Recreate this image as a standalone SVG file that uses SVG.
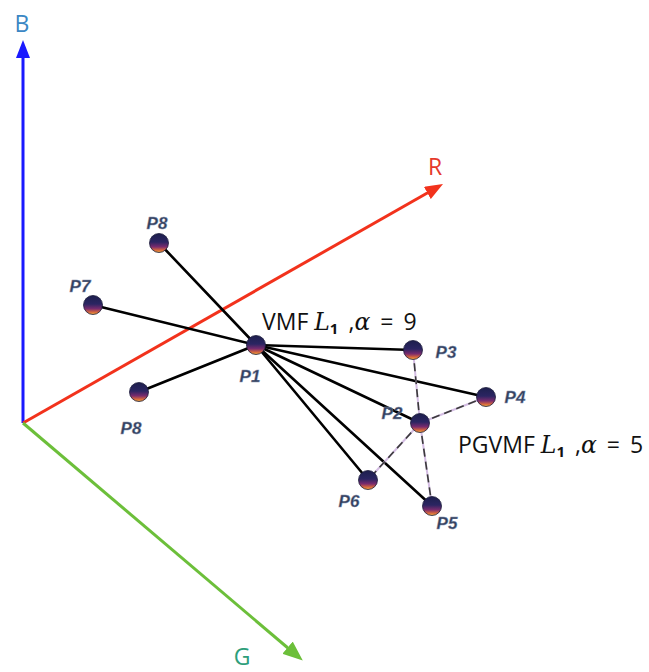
<svg xmlns="http://www.w3.org/2000/svg" width="649" height="672" viewBox="0 0 649 672">
<style>
.ax{stroke-width:3;fill:none}
.sl{stroke:#000;stroke-width:2.6;stroke-linecap:round}
.dl0{stroke:#d4bde3;stroke-width:2}
.dl1{stroke:#3a3a3a;stroke-width:1.6;stroke-dasharray:8 5}
.pl{font-family:"Liberation Sans",Arial,sans-serif;font-weight:bold;font-style:italic;font-size:17px;fill:#33415f;stroke:#8a96b0;stroke-width:0.4}
.al{font-family:"Open Sans","Liberation Sans",sans-serif;font-size:23px}
.mt{font-family:"Open Sans","Liberation Sans",sans-serif;font-size:23px;fill:#111}
.mi{font-family:"DejaVu Serif","Liberation Serif",serif;font-style:italic}
</style>
<defs>
<linearGradient id="sph" x1="0" y1="0" x2="0" y2="1">
<stop offset="0" stop-color="#1d1f4d"/>
<stop offset="0.45" stop-color="#2b2562"/>
<stop offset="0.7" stop-color="#7a2b6e"/>
<stop offset="0.88" stop-color="#d8683c"/>
<stop offset="1" stop-color="#f2b443"/>
</linearGradient>
<marker id="mb" viewBox="0 0 18 14" refX="8" refY="7" markerWidth="18" markerHeight="14" markerUnits="userSpaceOnUse" orient="auto"><path d="M0,0 L18,7 L0,14 Z" fill="#1a1aff"/></marker>
<marker id="mr" viewBox="0 0 18 14" refX="8" refY="7" markerWidth="18" markerHeight="14" markerUnits="userSpaceOnUse" orient="auto"><path d="M0,0 L18,7 L0,14 Z" fill="#f2321c"/></marker>
<marker id="mg" viewBox="0 0 20 16" refX="9" refY="8" markerWidth="20" markerHeight="16" markerUnits="userSpaceOnUse" orient="auto"><path d="M0,0 L20,8 L0,16 Z" fill="#6cbf3a"/></marker>
</defs>
<rect width="649" height="672" fill="#fff"/>
<g id="axes">
<line class="ax" x1="23" y1="423" x2="23" y2="50" stroke="#1a1aff" marker-end="url(#mb)"/>
<line class="ax" x1="23" y1="423" x2="434.3" y2="189" stroke="#f2321c" marker-end="url(#mr)"/>
<line class="ax" x1="23" y1="423" x2="294.4" y2="653.5" stroke="#6cbf3a" marker-end="url(#mg)"/>
<text class="al" x="22" y="32" text-anchor="middle" fill="#3b87c4">B</text>
<text class="al" x="435" y="175" text-anchor="middle" fill="#e5392b">R</text>
<text class="al" x="242" y="665" text-anchor="middle" fill="#2e9e7a">G</text>
</g>
<g id="connectors">
<line class="sl" x1="256" y1="345" x2="159" y2="243"/>
<line class="sl" x1="256" y1="345" x2="93" y2="305"/>
<line class="sl" x1="256" y1="345" x2="139" y2="392"/>
<line class="sl" x1="256" y1="345" x2="413" y2="350"/>
<line class="sl" x1="256" y1="345" x2="486" y2="397"/>
<line class="sl" x1="256" y1="345" x2="420" y2="423"/>
<line class="sl" x1="256" y1="345" x2="368" y2="480"/>
<line class="sl" x1="256" y1="345" x2="432" y2="506"/>
<g id="dashed">
<line class="dl0" x1="420" y1="423" x2="413" y2="350"/>
<line class="dl0" x1="420" y1="423" x2="486" y2="397"/>
<line class="dl0" x1="420" y1="423" x2="368" y2="480"/>
<line class="dl0" x1="420" y1="423" x2="432" y2="506"/>
<line class="dl1" x1="420" y1="423" x2="413" y2="350"/>
<line class="dl1" x1="420" y1="423" x2="486" y2="397"/>
<line class="dl1" x1="420" y1="423" x2="368" y2="480"/>
<line class="dl1" x1="420" y1="423" x2="432" y2="506"/>
</g>
</g>
<g id="P8a"><circle cx="159" cy="243" r="9.5" fill="url(#sph)" stroke="#1a1a3a" stroke-width="0.8"/><text class="pl" x="157" y="229" text-anchor="middle">P8</text></g>
<g id="P7"><circle cx="93" cy="305" r="9.5" fill="url(#sph)" stroke="#1a1a3a" stroke-width="0.8"/><text class="pl" x="80" y="292" text-anchor="middle">P7</text></g>
<g id="P1"><circle cx="256" cy="345" r="9.5" fill="url(#sph)" stroke="#1a1a3a" stroke-width="0.8"/><text class="pl" x="250" y="382" text-anchor="middle">P1</text></g>
<g id="P8b"><circle cx="139" cy="392" r="9.5" fill="url(#sph)" stroke="#1a1a3a" stroke-width="0.8"/><text class="pl" x="131" y="434" text-anchor="middle">P8</text></g>
<g id="P3"><circle cx="413" cy="350" r="9.5" fill="url(#sph)" stroke="#1a1a3a" stroke-width="0.8"/><text class="pl" x="446" y="358" text-anchor="middle">P3</text></g>
<g id="P4"><circle cx="486" cy="397" r="9.5" fill="url(#sph)" stroke="#1a1a3a" stroke-width="0.8"/><text class="pl" x="515" y="403" text-anchor="middle">P4</text></g>
<g id="P2"><circle cx="420" cy="423" r="9.5" fill="url(#sph)" stroke="#1a1a3a" stroke-width="0.8"/><text class="pl" x="392" y="419" text-anchor="middle">P2</text></g>
<g id="P6"><circle cx="368" cy="480" r="9.5" fill="url(#sph)" stroke="#1a1a3a" stroke-width="0.8"/><text class="pl" x="349" y="507" text-anchor="middle">P6</text></g>
<g id="P5"><circle cx="432" cy="506" r="9.5" fill="url(#sph)" stroke="#1a1a3a" stroke-width="0.8"/><text class="pl" x="447" y="529" text-anchor="middle">P5</text></g>
<g id="labels">
<text class="mt" x="262" y="330">VMF <tspan class="mi" font-size="23.5">L</tspan><tspan font-size="15" font-weight="bold" dy="4">1</tspan><tspan dy="-4" dx="4"> ,</tspan><tspan class="mi" font-size="23.5">α</tspan><tspan dx="10">=</tspan><tspan dx="10">9</tspan></text>
<text class="mt" x="458" y="453">PGVMF <tspan class="mi" font-size="23.5">L</tspan><tspan font-size="15" font-weight="bold" dy="4">1</tspan><tspan dy="-4" dx="4"> ,</tspan><tspan class="mi" font-size="23.5">α</tspan><tspan dx="10">=</tspan><tspan dx="10">5</tspan></text>
</g>
</svg>
